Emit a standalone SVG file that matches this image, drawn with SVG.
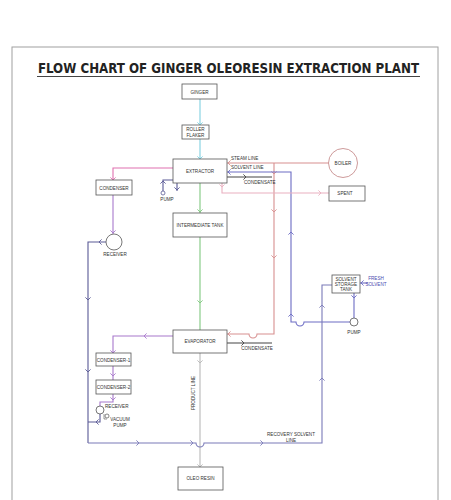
<svg xmlns="http://www.w3.org/2000/svg" width="451" height="500" viewBox="0 0 451 500">
<style>
.box{fill:#fff;stroke:#555;stroke-width:0.8}
.t{font-family:"Liberation Sans",Arial,sans-serif;font-size:4.6px;fill:#333;text-anchor:middle}
.tl{text-anchor:start}
.ln{fill:none;stroke-width:1.1}
.ch{fill:none;stroke-width:0.9}
.cyan{stroke:#80d0e0}
.pink{stroke:#e070b0}
.vio{stroke:#a878cc}
.grn{stroke:#80c880}
.sal{stroke:#d89090}
.blu{stroke:#6c6cc4}
.dk{stroke:#5a5a96}
.rec{stroke:#7a7ab8}
.prod{stroke:#b8b8b8}
.spent{stroke:#eab0c0}
.cond{stroke:#444}
</style>
<defs>
<path id="ch" d="M-2.6,-2.6 L0,0 L-2.6,2.6"/>
</defs>
<rect x="0" y="0" width="451" height="500" fill="#fff"/>
<rect x="12" y="47" width="426" height="470" fill="none" stroke="#a0a0a0" stroke-width="1"/>
<g id="title">
<text x="228.5" y="73" text-anchor="middle" font-family="'DejaVu Sans Condensed','DejaVu Sans',Verdana,sans-serif" font-weight="bold" font-size="13.2" fill="#222">FLOW CHART OF GINGER OLEORESIN EXTRACTION PLANT</text>
<line x1="37" y1="76.5" x2="420" y2="76.5" stroke="#444" stroke-width="1"/>
</g>
<g id="connectors">
<path class="ln cyan" d="M200,99 V125 M200,139 V159"/>
<use href="#ch" class="ch cyan" transform="translate(200,125) rotate(90)"/>
<use href="#ch" class="ch cyan" transform="translate(200,159) rotate(90)"/>
<path class="ln pink" d="M173,168 H113 V180"/>
<use href="#ch" class="ch pink" transform="translate(113,180) rotate(90)"/>
<path class="ln vio" d="M113,195 V234"/>
<use href="#ch" class="ch vio" transform="translate(113,233) rotate(90)"/>
<path class="ln dk" d="M177,183 V191 M163,191 V180 H173"/>
<use href="#ch" class="ch dk" transform="translate(177,190) rotate(90)"/>
<use href="#ch" class="ch dk" transform="translate(163,181) rotate(-90)"/>
<circle cx="163" cy="193" r="2" fill="#fff" stroke="#5a5a96" stroke-width="0.8"/>
<path class="ln grn" d="M200,183 V213 M200,237 V330"/>
<use href="#ch" class="ch grn" transform="translate(200,212) rotate(90)"/>
<use href="#ch" class="ch grn" transform="translate(200,303) rotate(90)"/>
<path class="ln sal" d="M329,163 H227 M274,163 V334 H257 a4,4 0 0 1 -8,0 H227"/>
<use href="#ch" class="ch sal" transform="translate(228,163) rotate(180)"/>
<use href="#ch" class="ch sal" transform="translate(274,174) rotate(90)"/>
<use href="#ch" class="ch sal" transform="translate(274,212) rotate(90)"/>
<use href="#ch" class="ch sal" transform="translate(274,258) rotate(90)"/>
<use href="#ch" class="ch sal" transform="translate(228,334) rotate(180)"/>
<path class="ln blu" d="M350,322 H304 a4,4 0 0 1 -8,0 H291 V172 H227"/>
<use href="#ch" class="ch blu" transform="translate(228,172) rotate(180)"/>
<use href="#ch" class="ch blu" transform="translate(291,232) rotate(-90)"/>
<use href="#ch" class="ch blu" transform="translate(291,314) rotate(-90)"/>
<path class="ln cond" d="M227,177 H272" stroke-width="0.8"/>
<use href="#ch" class="ch cond" transform="translate(246,177)"/>
<path class="ln spent" d="M222,183 V193 H329"/>
<use href="#ch" class="ch spent" transform="translate(222,187) rotate(90)"/>
<use href="#ch" class="ch spent" transform="translate(321,193)"/>
<path class="ln vio" d="M173,336 H113 V353 M113,366 V380 M113,394 V402 H100 V406"/>
<use href="#ch" class="ch vio" transform="translate(144,336) rotate(180)"/>
<use href="#ch" class="ch vio" transform="translate(113,353) rotate(90)"/>
<use href="#ch" class="ch vio" transform="translate(113,376) rotate(90)"/>
<use href="#ch" class="ch vio" transform="translate(113,400) rotate(90)"/>
<path class="ln cond" d="M227,343 H272" stroke-width="0.8"/>
<use href="#ch" class="ch cond" transform="translate(244,343)"/>
<path class="ln prod" d="M200,353 V467"/>
<use href="#ch" class="ch prod" transform="translate(200,363) rotate(90)"/>
<use href="#ch" class="ch prod" transform="translate(200,467) rotate(90)"/>
<path class="ln dk" d="M106,242 H88 V443"/>
<use href="#ch" class="ch dk" transform="translate(99,242) rotate(180)"/>
<use href="#ch" class="ch dk" transform="translate(88,300) rotate(90)"/>
<use href="#ch" class="ch dk" transform="translate(88,372) rotate(90)"/>
<path class="ln dk" d="M100,414 V422 H88" stroke-width="0.8"/>
<use href="#ch" class="ch dk" transform="translate(96,422) rotate(180)"/>
<path class="ln rec" d="M88,443 H196 a4,4 0 0 0 8,0 H322 V285 H332"/>
<use href="#ch" class="ch rec" transform="translate(139,443)"/>
<use href="#ch" class="ch rec" transform="translate(193,443)"/>
<use href="#ch" class="ch rec" transform="translate(263,443)"/>
<use href="#ch" class="ch rec" transform="translate(322,378) rotate(-90)"/>
<use href="#ch" class="ch rec" transform="translate(322,305) rotate(-90)"/>
<path class="ln blu" d="M354,293 V318"/>
<use href="#ch" class="ch blu" transform="translate(354,298) rotate(90)"/>
<path class="ln blu" d="M368,283 H360" stroke-width="0.8"/>
<use href="#ch" class="ch blu" transform="translate(361,283) rotate(180)"/>
</g>
<g id="ginger"><rect class="box" x="182" y="84" width="35" height="15"/><text class="t" x="199.5" y="93.5">GINGER</text></g>
<g id="roller-flaker"><rect class="box" x="182" y="125" width="27" height="14"/><text class="t" x="195.5" y="131">ROLLER</text><text class="t" x="195.5" y="136.5">FLAKER</text></g>
<g id="extractor"><rect class="box" x="173" y="159" width="54" height="24"/><text class="t" x="200" y="173">EXTRACTOR</text></g>
<g id="condenser"><rect class="box" x="96" y="180" width="36" height="15"/><text class="t" x="114" y="189.5">CONDENSER</text></g>
<g id="receiver"><circle cx="114" cy="242" r="8" fill="#fff" stroke="#555" stroke-width="0.8"/><text class="t" x="115" y="256">RECEIVER</text></g>
<g id="pump-extractor"><text class="t" x="167" y="201">PUMP</text></g>
<g id="intermediate-tank"><rect class="box" x="173" y="213" width="54" height="24"/><text class="t" x="200" y="227">INTERMEDIATE TANK</text></g>
<g id="labels-extractor"><text class="t tl" x="231" y="160">STEAM LINE</text><text class="t tl" x="231" y="169">SOLVENT LINE</text><text class="t tl" x="244" y="183.5">CONDENSATE</text></g>
<g id="boiler"><circle cx="343" cy="163" r="14.5" fill="#fff" stroke="#c08080" stroke-width="0.8"/><text class="t" x="343" y="165">BOILER</text></g>
<g id="spent"><rect class="box" x="329" y="186" width="36" height="15"/><text class="t" x="345" y="195">SPENT</text></g>
<g id="solvent-storage-tank"><rect class="box" x="332" y="275" width="28" height="18"/><text class="t" x="346" y="280.5">SOLVENT</text><text class="t" x="346" y="285.5">STORAGE</text><text class="t" x="346" y="290.5">TANK</text></g>
<g id="fresh-solvent"><text class="t" x="376" y="280" style="fill:#4a4ab0">FRESH</text><text class="t" x="376" y="285.5" style="fill:#4a4ab0">SOLVENT</text></g>
<g id="pump-solvent"><circle cx="354" cy="322" r="4" fill="#fff" stroke="#555" stroke-width="0.8"/><text class="t" x="354" y="333.5">PUMP</text></g>
<g id="evaporator"><rect class="box" x="173" y="330" width="54" height="23"/><text class="t" x="200" y="343">EVAPORATOR</text></g>
<g id="labels-evaporator"><text class="t" x="257" y="350">CONDENSATE</text></g>
<g id="condenser-1"><rect class="box" x="96" y="353" width="35" height="13"/><text class="t" x="113.5" y="361.5">CONDENSER-1</text></g>
<g id="condenser-2"><rect class="box" x="96" y="380" width="35" height="14"/><text class="t" x="113.5" y="389">CONDENSER-2</text></g>
<g id="receiver-2"><circle cx="100" cy="410" r="4" fill="#fff" stroke="#555" stroke-width="0.8"/><text class="t tl" x="105" y="408">RECEIVER</text></g>
<g id="vacuum-pump"><circle cx="107" cy="416" r="2" fill="#fff" stroke="#555" stroke-width="0.7"/><path d="M104,414 V419 H107" fill="none" stroke="#555" stroke-width="0.6"/><text class="t" x="120" y="421">VACUUM</text><text class="t" x="120" y="426.5">PUMP</text></g>
<g id="product-line-label"><text class="t" transform="translate(194.5,393) rotate(-90)">PRODUCT LINE</text></g>
<g id="recovery-label"><text class="t" x="291" y="436">RECOVERY SOLVENT</text><text class="t" x="291" y="441.5">LINE</text></g>
<g id="oleo-resin"><rect class="box" x="178" y="467" width="45" height="23"/><text class="t" x="200.5" y="480">OLEO RESIN</text></g>
</svg>
